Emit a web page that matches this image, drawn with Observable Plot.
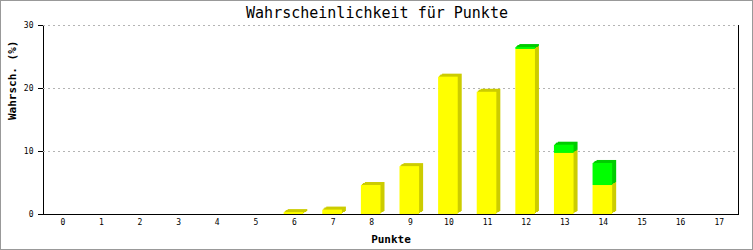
<!DOCTYPE html>
<html>
<head>
<meta charset="utf-8">
<script src="https://cdn.jsdelivr.net/npm/d3@7"></script>
<script src="https://cdn.jsdelivr.net/npm/@observablehq/plot@0.6"></script>
<style>
  html, body { margin: 0; padding: 0; background: white; }
  #wrap { position: relative; width: 753px; height: 250px; }
  #border { position: absolute; left: 0; top: 0; width: 753px; height: 250px; box-sizing: border-box; border: 1px solid #999; pointer-events: none; }
  svg { display: block; }
</style>
</head>
<body>
<div id="wrap"><div id="border"></div></div>
<script>
const titel = "Wahrscheinlichkeit für Punkte";
const xLabel = "Punkte";
const yLabel = "Wahrsch. (%)";
const xTickLabels = [0,1,2,3,4,5,6,7,8,9,10,11,12,13,14,15,16,17];
const yTicks = [0,10,20,30];
const punkte = [6,7,8,9,10,11,12,13,14];
const gelb  = [0.3,0.7,4.6,7.6,21.8,19.4,26.2,9.7,4.6];
const gruen = [0,0,0,0,0,0,0.3,1.3,3.5];

const rows = punkte.map((p,i) => ({p, y: gelb[i], g: gruen[i]}));
const greenRows = rows.filter(d => d.g > 0);
const offsets = [[1,-1],[2,-2],[3,-2],[4,-3]];
const inset = {insetLeft: 9, insetRight: 10};

const chart = Plot.plot({
  width: 753,
  height: 250,
  marginTop: 25,
  marginBottom: 36,
  marginLeft: 43,
  marginRight: 15,
  style: {fontFamily: "DejaVu Sans Mono", fontSize: "8px", background: "white", color: "black"},
  x: {type: "band", domain: xTickLabels, padding: 0, round: false},
  y: {domain: [0, 30]},
  marks: [
    Plot.frame({stroke: "black"}),
    Plot.ruleY([30], {stroke: "white"}),
    Plot.gridY({ticks: yTicks.filter(v => v > 0), stroke: "#b4b4b4", strokeOpacity: 1, strokeDasharray: "2,3"}),
    ...offsets.map(([dx, dy]) => Plot.barY(rows, {x: "p", y1: 0, y2: "y", fill: "#cccc00", dx, dy, ...inset})),
    ...offsets.map(([dx, dy]) => Plot.barY(greenRows, {x: "p", y1: "y", y2: d => d.y + d.g, fill: "#00cc00", dx, dy, ...inset})),
    Plot.barY(rows, {x: "p", y1: 0, y2: "y", fill: "#ffff00", ...inset}),
    Plot.barY(greenRows, {x: "p", y1: "y", y2: d => d.y + d.g, fill: "#00ff00", ...inset}),
    Plot.ruleY([0], {stroke: "black"}),
    Plot.axisX({ticks: xTickLabels, tickSize: 0, tickPadding: 5, label: null, fontSize: 8}),
    Plot.axisY({ticks: yTicks, tickSize: 5, tickPadding: 5, label: null, fontSize: 8}),
    Plot.text([titel], {frameAnchor: "top", dx: -14, dy: -12, fontSize: 15, text: d => d, lineAnchor: "middle"}),
    Plot.text([xLabel], {frameAnchor: "bottom", dy: 25, fontSize: 11, fontWeight: "bold", text: d => d, lineAnchor: "middle"}),
    Plot.text([yLabel], {frameAnchor: "left", dx: -31, rotate: -90, fontSize: 11, fontWeight: "bold", text: d => d, lineAnchor: "middle"})
  ]
});
document.getElementById("wrap").insertBefore(chart, document.getElementById("border"));
</script>
</body>
</html>
